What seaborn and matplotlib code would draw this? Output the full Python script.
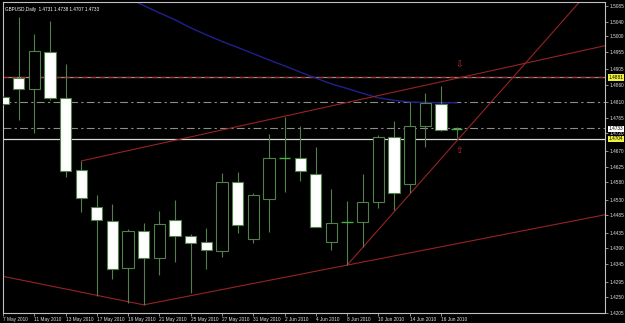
import matplotlib
matplotlib.use("Agg")
import matplotlib.pyplot as plt
import matplotlib.transforms as mtransforms
import numpy as np
import pandas as pd
import seaborn as sns

# ---------------- data ----------------
dates = ["2010-05-07", "2010-05-10", "2010-05-11", "2010-05-12", "2010-05-13", "2010-05-14",
         "2010-05-17", "2010-05-18", "2010-05-19", "2010-05-20", "2010-05-21",
         "2010-05-24", "2010-05-25", "2010-05-26", "2010-05-27", "2010-05-28",
         "2010-05-31", "2010-06-01", "2010-06-02", "2010-06-03", "2010-06-04",
         "2010-06-07", "2010-06-08", "2010-06-09", "2010-06-10", "2010-06-11",
         "2010-06-14", "2010-06-15", "2010-06-16", "2010-06-17"]
opens = [1.4825, 1.4880, 1.4847, 1.4955, 1.4821, 1.4615, 1.4508, 1.4470, 1.4333, 1.4441,
         1.4362, 1.4471, 1.4426, 1.4408, 1.4383, 1.4580, 1.4416, 1.4533, 1.4650, 1.4649,
         1.4604, 1.4408, 1.4464, 1.4465, 1.4522, 1.4709, 1.4574, 1.4742, 1.4804, 1.4731]
highs = [1.4827, 1.5055, 1.5005, 1.5044, 1.4919, 1.4641, 1.4543, 1.4517, 1.4446, 1.4463,
         1.4497, 1.4529, 1.4431, 1.4449, 1.4606, 1.4610, 1.4548, 1.4718, 1.4767, 1.4741,
         1.4680, 1.4561, 1.4526, 1.4604, 1.4716, 1.4755, 1.4809, 1.4837, 1.4856, 1.4738]
lows = [1.4802, 1.4759, 1.4721, 1.4816, 1.4595, 1.4495, 1.4253, 1.4302, 1.4234, 1.4228,
        1.4314, 1.4352, 1.4262, 1.4331, 1.4366, 1.4433, 1.4405, 1.4438, 1.4553, 1.4584,
        1.4450, 1.4385, 1.4342, 1.4393, 1.4505, 1.4500, 1.4550, 1.4682, 1.4727, 1.4707]
closes = [1.4804, 1.4847, 1.4957, 1.4821, 1.4613, 1.4536, 1.4472, 1.4330, 1.4440, 1.4362,
          1.4461, 1.4426, 1.4406, 1.4385, 1.4581, 1.4456, 1.4542, 1.4649, 1.4651, 1.4612,
          1.4452, 1.4462, 1.4466, 1.4523, 1.4709, 1.4548, 1.4741, 1.4806, 1.4730, 1.4733]

ma_start = 8
ma_values = [1.5109, 1.5087, 1.5066, 1.5046, 1.5023, 1.5003, 1.4984, 1.4967, 1.4949, 1.4931,
             1.4914, 1.4896, 1.4879, 1.4862, 1.4849, 1.4835, 1.4822, 1.4815, 1.4810, 1.4809,
             1.4808, 1.4808]

# trend lines: two anchor points (bar index, price) each
trend_upper = [(5, 1.4641), (29.2, 1.4880)]
trend_steep = [(22, 1.4342), (29.2, 1.4708)]
trend_lower = [(9, 1.4228), (22, 1.4342)]
trend_left = [(-1, 1.4319), (9, 1.4228)]

level_red = 1.4881
level_dash1 = 1.4810
level_dash2 = 1.4735
level_white = 1.4704
bid_price = 1.4733
arrow_down = (29.15, 1.4916)
arrow_up = (29.15, 1.4672)

ytick_vals = [1.5085, 1.5040, 1.5000, 1.4955, 1.4905, 1.4860, 1.4810, 1.4765, 1.4720, 1.4670,
              1.4625, 1.4580, 1.4530, 1.4485, 1.4435, 1.4390, 1.4345, 1.4295, 1.4250, 1.4205]

header = "GBPUSD,Daily  1.4731 1.4738 1.4707 1.4733"

# ---------------- style ----------------
sns.set_theme(style="dark")
plt.rcParams["font.family"] = ["Liberation Sans", "DejaVu Sans"]

fig = plt.figure(figsize=(6.25, 3.23), dpi=100, facecolor="black")
ax = fig.add_axes([3 / 625, 10 / 323, 602 / 625, 311 / 323])
ax.set_facecolor("black")

n = len(dates)
idx = np.arange(n)
df = pd.DataFrame({"i": idx, "o": opens, "h": highs, "l": lows, "c": closes})

green = "#52804a"
doji_green = "#46b046"

# wicks
ax.vlines(df["i"], df["l"], df["h"], color=green, lw=0.8, zorder=3)
# bodies
for _, r in df.iterrows():
    if abs(r.c - r.o) < 0.00025:
        ax.hlines((r.o + r.c) / 2, r.i - 0.36, r.i + 0.36, color=doji_green, lw=1.0, zorder=4)
    else:
        bull = r.c > r.o
        ax.bar(r.i, abs(r.c - r.o), bottom=min(r.o, r.c), width=0.72,
               color="black" if bull else "white", edgecolor=green, lw=0.8, zorder=4)

# moving average
ma_df = pd.DataFrame({"i": np.arange(ma_start, ma_start + len(ma_values)), "v": ma_values})
sns.lineplot(data=ma_df, x="i", y="v", ax=ax, color="#20208f", lw=1.0, zorder=2)

# horizontal levels
ax.axhline(level_red, color="#9a8f86", lw=0.9, zorder=1)
ax.axhline(level_red, color="#b02a2a", lw=0.9, ls=(0, (4, 3)), zorder=1)
ax.axhline(level_dash1, color="#8a8f8a", lw=0.8, ls=(0, (7, 3, 2, 3)), zorder=1)
ax.axhline(level_dash2, color="#8a8f8a", lw=0.8, ls=(0, (7, 3, 2, 3)), zorder=1)
ax.axhline(level_white, color="#d8d8d8", lw=0.9, zorder=1)

# trend lines
red = "#962424"
x_end = 38.6
for (x0, y0), (x1, y1) in [trend_upper, trend_steep, trend_lower]:
    s = (y1 - y0) / (x1 - x0)
    tl = pd.DataFrame({"x": [x0, x_end], "y": [y0, y0 + s * (x_end - x0)]})
    sns.lineplot(data=tl, x="x", y="y", ax=ax, color=red, lw=0.8, zorder=2)
tl = pd.DataFrame({"x": [p[0] for p in trend_left], "y": [p[1] for p in trend_left]})
sns.lineplot(data=tl, x="x", y="y", ax=ax, color=red, lw=0.8, zorder=2)

# arrows
ax.text(*arrow_down, "⇩", color="#c83030", fontsize=6.5, ha="center", va="center",
        family="DejaVu Sans", zorder=5)
ax.text(*arrow_up, "⇧", color="#c83030", fontsize=6.5, ha="center", va="center",
        family="DejaVu Sans", zorder=5)

# axes limits
ax.set_xlim(0.02, 38.49)
ax.set_ylim(1.42046, 1.50972)

# x ticks
xt = list(range(0, n - 1, 2))
ax.set_xticks(xt)
ax.set_xticklabels([f"{pd.Timestamp(dates[i]).day} {pd.Timestamp(dates[i]):%b %Y}" for i in xt])
for lab in ax.get_xticklabels():
    lab.set_ha("left")
ax.tick_params(axis="x", colors="#c8c8c8", labelsize=3.4, length=2, width=0.5,
               pad=1, labelcolor="#e0e0e0", direction="out", bottom=True)

# y ticks
ax.yaxis.tick_right()
ax.set_yticks(ytick_vals)
ax.set_yticklabels([f"{v:.4f}" for v in ytick_vals])
ax.tick_params(axis="y", colors="#c8c8c8", labelsize=3.4, length=2, width=0.5,
               pad=1.5, labelcolor="#e0e0e0", direction="out", right=True, left=False)
ax.set_xlabel("")
ax.set_ylabel("")

for sp in ax.spines.values():
    sp.set_visible(True)
    sp.set_color("#c0c0c0")
    sp.set_linewidth(0.8)

# highlighted price labels
tr = mtransforms.blended_transform_factory(ax.transAxes, ax.transData)
for val, bg in [(level_red, "#f0f040"), (bid_price, "white"), (level_white, "#f0f040")]:
    ax.text(1.006, val, f"{val:.4f}", transform=tr, fontsize=3.4, color="black",
            ha="left", va="center", zorder=10, clip_on=False,
            bbox=dict(boxstyle="square,pad=0.15", fc=bg, ec="none"))

# header
ax.text(0.004, 0.985, header, transform=ax.transAxes, fontsize=3.3, color="white",
        ha="left", va="top", zorder=10)

fig.savefig("out.png", dpi=100, facecolor="black")
